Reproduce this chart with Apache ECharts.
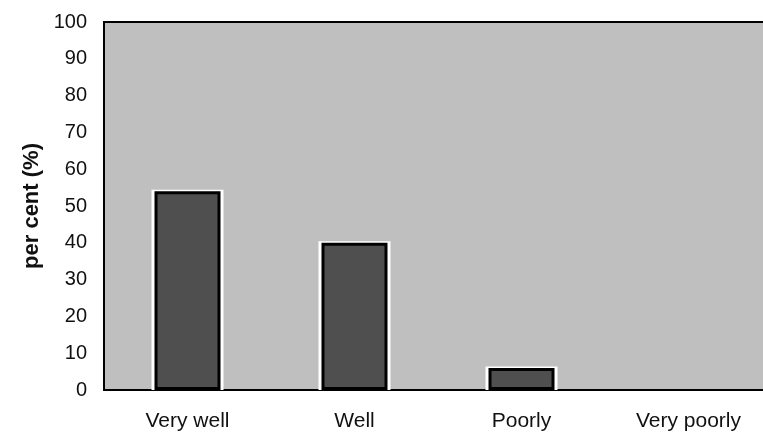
<!DOCTYPE html>
<html>
<head>
<meta charset="utf-8">
<script src="https://cdn.jsdelivr.net/npm/echarts@6/dist/echarts.min.js"></script>
<style>
  html, body { margin: 0; padding: 0; background: #fff; overflow: hidden; }
  #chart { width: 780px; height: 437px; }
</style>
</head>
<body>
<div id="chart"></div>
<script>
// Survey responses, share of respondents per answer
const categories = ['Very well', 'Well', 'Poorly', 'Very poorly'];
const percentValues = [54, 40, 6, 0];
const yTicks = { min: 0, max: 100, interval: 10 };
const yAxisTitle = 'per cent (%)';

const font = 'Liberation Sans, Arial, Helvetica, sans-serif';
const chart = echarts.init(document.getElementById('chart'), null, { renderer: 'canvas' });

chart.setOption({
  animation: false,
  backgroundColor: '#ffffff',
  grid: {
    left: 104, right: 8, top: 22, bottom: 47,
    show: true,
    backgroundColor: '#bfbfbf',
    borderColor: '#000',
    borderWidth: 2
  },
  xAxis: [
    {
      type: 'category',
      data: categories,
      axisLine: { show: true, lineStyle: { color: '#000', width: 1.5 } },
      axisTick: { show: false },
      axisLabel: { color: '#111', fontFamily: font, fontSize: 21, margin: 21 }
    },
    {
      // twin axis so the outlined bar sits centred over its white halo
      type: 'category',
      data: categories,
      show: false
    }
  ],
  yAxis: {
    type: 'value',
    min: yTicks.min, max: yTicks.max, interval: yTicks.interval,
    name: yAxisTitle,
    nameLocation: 'middle',
    nameGap: 59,
    nameRotate: 90,
    nameTextStyle: { color: '#111', fontFamily: font, fontSize: 22, fontWeight: 'bold' },
    axisLine: { show: true, lineStyle: { color: '#000', width: 2 } },
    axisTick: { show: false },
    splitLine: { show: false },
    axisLabel: { color: '#111', fontFamily: font, fontSize: 20, margin: 17 }
  },
  series: [
    {
      name: 'halo',
      type: 'bar',
      xAxisIndex: 0,
      data: percentValues.map(v => (v > 0 ? v + 0.4 : null)),
      barWidth: 72,
      itemStyle: { color: '#ffffff' },
      silent: true,
      z: 2
    },
    {
      name: 'share',
      type: 'bar',
      xAxisIndex: 1,
      data: percentValues.map(v => (v > 0 ? v : null)),
      barWidth: 66,
      itemStyle: { color: '#4f4f4f', borderColor: '#000', borderWidth: 3 },
      z: 3
    }
  ]
});
</script>
</body>
</html>
